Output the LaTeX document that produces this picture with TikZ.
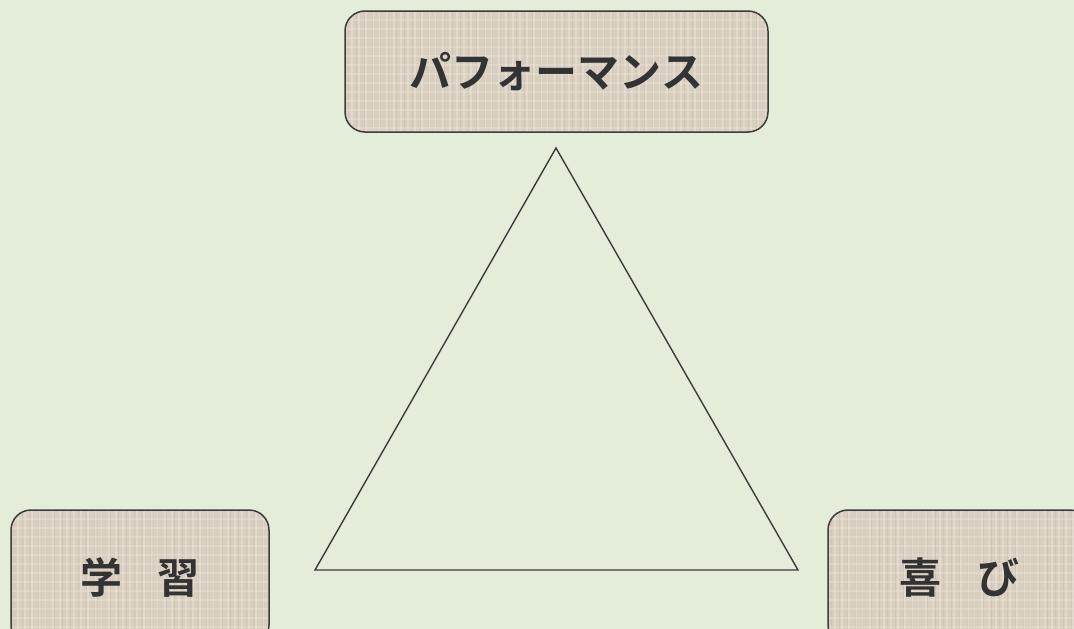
\documentclass[tikz,border=0pt]{standalone}
\usepackage{fontspec}
\newfontfamily\jpfont{Noto Sans CJK JP Bold}
\usetikzlibrary{positioning}
\definecolor{bgGreen}{HTML}{E3EDDA}
\definecolor{linen}{HTML}{D9CFC1}
\definecolor{linenDark}{HTML}{BDB1A1}
\definecolor{linenLight}{HTML}{EAE3D6}
\definecolor{edgeGray}{HTML}{3C3C3C}
\definecolor{textGray}{HTML}{333333}

\begin{document}
\begin{tikzpicture}[
    x=1pt, y=-1pt,
    label box/.style={rectangle, draw=edgeGray, line width=1.5pt,
                rounded corners=20pt, fill=linen,
                font=\jpfont\fontsize{42}{42}\selectfont, text=textGray,
                inner sep=0pt, align=center,
                path picture={
                  \foreach \k in {0,7,...,450}
                    \draw[linenLight, line width=1.8pt, opacity=0.55]
                      ([xshift=\k pt]path picture bounding box.north west) -- ++(0,200);
                  \foreach \k in {3,11,...,450}
                    \draw[linenDark, line width=0.8pt, opacity=0.35]
                      ([xshift=\k pt]path picture bounding box.north west) -- ++(0,200);
                  \foreach \k in {0,9,...,150}
                    \draw[linenLight, line width=1.2pt, opacity=0.4]
                      ([yshift=-\k pt]path picture bounding box.north west) -- ++(500,0);
                }},
    edge line/.style={draw=edgeGray, line width=1.4pt}
]

%% --- Fundal ---
\useasboundingbox (0,0) rectangle (1074,629);
\clip (0,0) rectangle (1074,629);
\fill[bgGreen] (0,0) rectangle (1074,629);

%% --- Casete ---
\node[label box, minimum width=423pt, minimum height=121pt] (perf) at (556.5,71.5) {\raisebox{-2pt}{パフォーマンス}};
\node[label box, minimum width=258pt, minimum height=135pt] (learn) at (140,577.5) {学\hspace{36pt}習};
\node[label box, minimum width=262pt, minimum height=135pt] (joy) at (959,577.5) {喜\hspace{36pt}び};

%% --- Triunghi ---
\coordinate (apex)  at (556,148);
\coordinate (left)  at (315,570);
\coordinate (right) at (798,570);
\draw[edge line] (apex) -- (left) -- (right) -- cycle;

\end{tikzpicture}
\end{document}
